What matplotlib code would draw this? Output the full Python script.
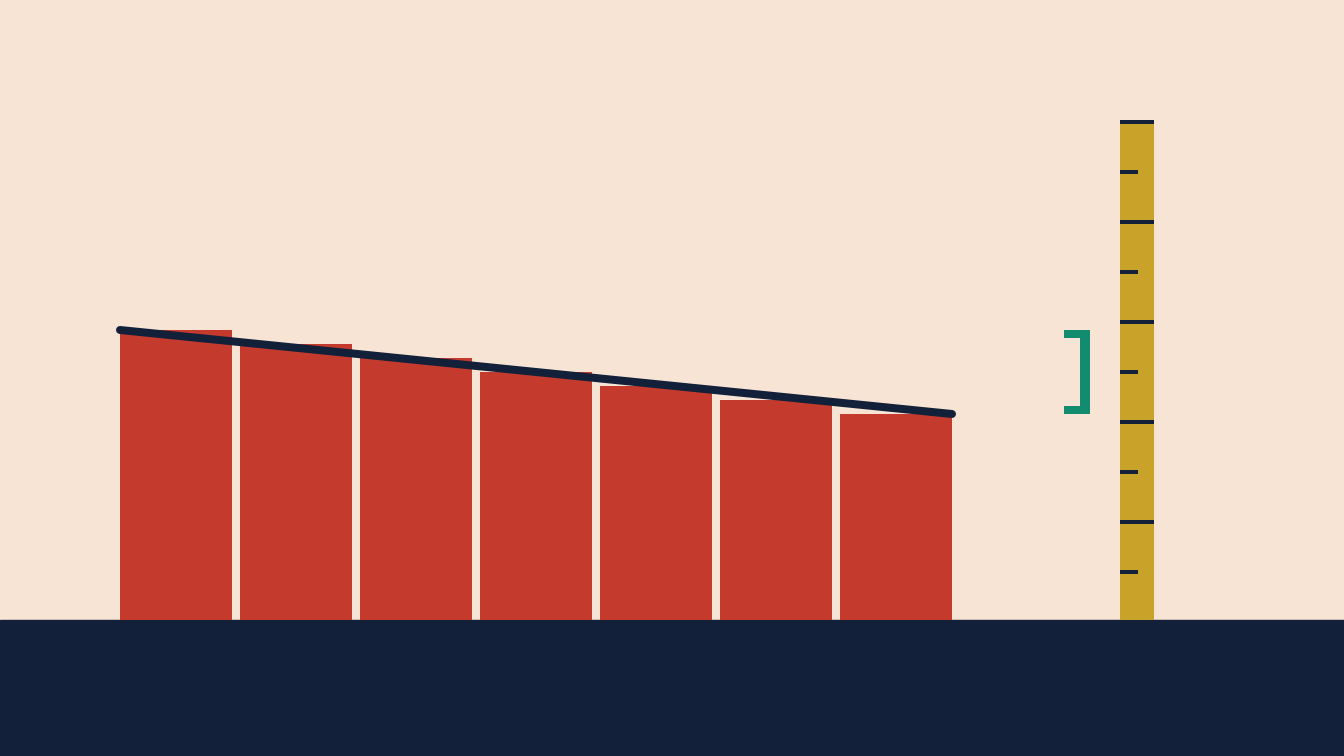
import matplotlib
matplotlib.use("Agg")
from matplotlib import pyplot as plt
from matplotlib.patches import Rectangle
import numpy as np

# DATA
categories = ["A", "B", "C", "D", "E", "F", "G"]
values = [58.0, 55.2, 52.4, 49.6, 46.8, 44.0, 41.2]
ruler_max = 100
major_ticks = [20, 40, 60, 80, 100]
minor_ticks = [10, 30, 50, 70, 90]

# STYLING
BG = "#F8E4D4"
RED = "#C43B2E"
NAVY = "#12203A"
GOLD = "#C9A22A"
GREEN = "#118C6E"
PX = 0.72  # points per pixel at dpi 100

fig = plt.figure(figsize=(13.44, 7.56), dpi=100, facecolor=BG)
ax = fig.add_axes([0, 0, 1, 1])
ax.set_facecolor(BG)
ax.set_xlim(-1.4667, 9.7333)
ax.set_ylim(-27.2, 124)
ax.axis("off")

# floor
ax.axhspan(-27.2, 0, color=NAVY, zorder=1)

# bars
x = np.arange(len(categories))
bar_w = 112 / 120
ax.bar(x, values, width=bar_w, color=RED, zorder=2)

# trend line across bar tops
ax.plot([x[0] - bar_w / 2, x[-1] + bar_w / 2], [values[0], values[-1]],
        color=NAVY, lw=8 * PX, solid_capstyle="round", zorder=3)

# bracket showing the drop
top, bottom = max(values), min(values)
arm = 1.6
bx0, bx1 = 7.4, 7.6167
ax.add_patch(Rectangle((bx0, top - arm), bx1 - bx0, arm, color=GREEN, lw=0, zorder=3))
ax.add_patch(Rectangle((bx0, bottom), bx1 - bx0, arm, color=GREEN, lw=0, zorder=3))
ax.add_patch(Rectangle((bx1 - 10 / 120, bottom), 10 / 120, top - bottom,
                       color=GREEN, lw=0, zorder=3))

# ruler
rx0, rx1 = 7.8667, 8.15
ax.bar((rx0 + rx1) / 2, ruler_max, width=rx1 - rx0, color=GOLD, zorder=2)
for v in major_ticks:
    ax.hlines(v - 0.4, rx0, rx1, color=NAVY, lw=4 * PX, capstyle="butt", zorder=3)
for v in minor_ticks:
    ax.hlines(v - 0.4, rx0, rx0 + 18 / 120, color=NAVY, lw=4 * PX, capstyle="butt", zorder=3)

fig.savefig("out.png", dpi=100, facecolor=BG)
